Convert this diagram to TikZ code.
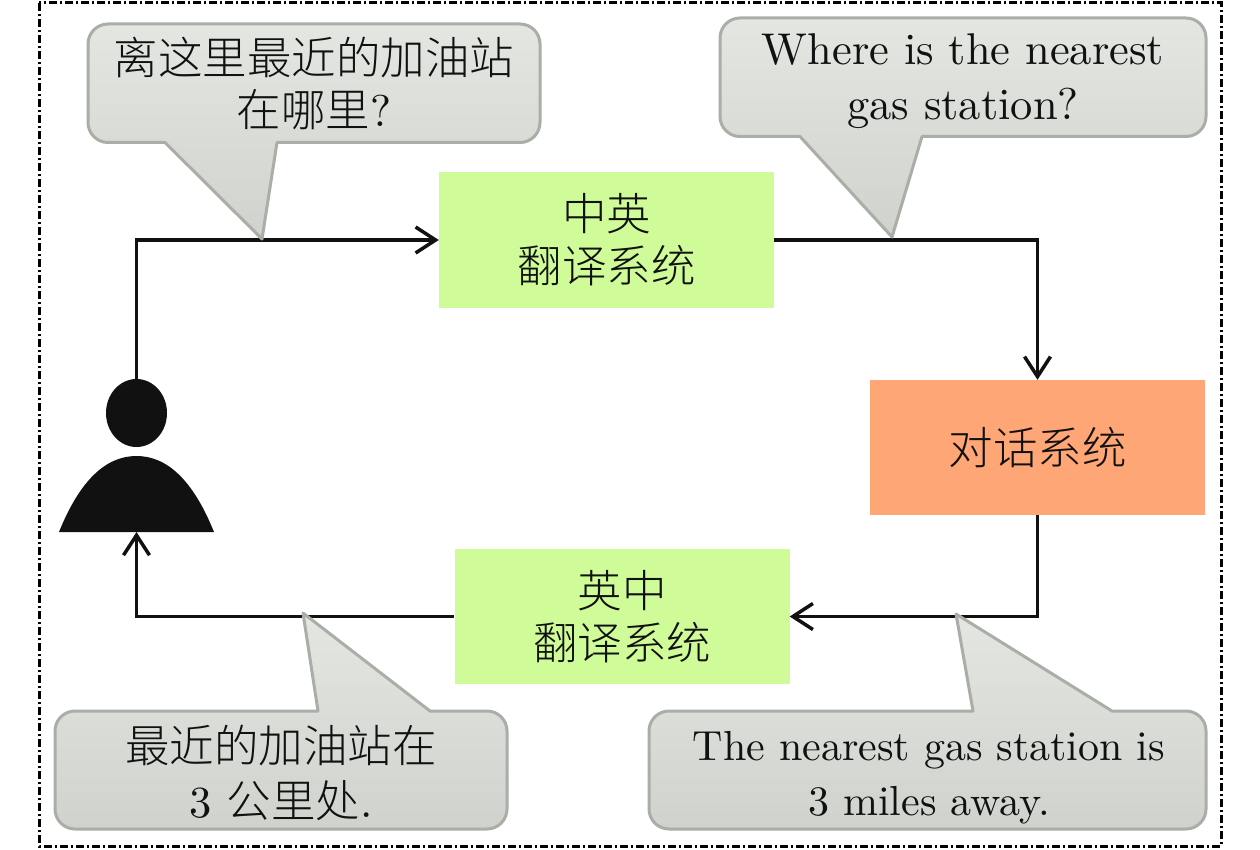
\documentclass[tikz,border=0pt]{standalone}
\usepackage{xcolor}
\usepackage{fontspec}
\setmainfont{lmroman10-regular}[Extension=.otf]
\newfontfamily\cjk{Noto Sans CJK SC Light}
\usetikzlibrary{arrows.meta,shapes.geometric}

\definecolor{boxgreen}{HTML}{CFFC98}
\definecolor{boxorange}{HTML}{FFA676}
\definecolor{bubbleline}{HTML}{A9AEA7}
\definecolor{bubbletop}{HTML}{E3E6E1}
\definecolor{bubblebottom}{HTML}{D0D3CD}
\definecolor{inkblack}{HTML}{111111}

\tikzset{
    sysbox/.style={minimum width=335pt,minimum height=135pt,inner sep=0pt,align=center,text=inkblack,font=\fontsize{44.5}{56}\selectfont},
    bubble/.style={draw=bubbleline,line width=3pt,top color=bubbletop,bottom color=bubblebottom,line join=round},
    bubbletext/.style={inner sep=0pt,align=center,text=inkblack,font=\fontsize{44.5}{55}\selectfont},
    flow/.style={draw=inkblack,line width=3.5pt,-{Straight Barb[length=20pt,width=26pt]}}
}

\begin{document}
\begin{tikzpicture}[x=1pt,y=-1pt]
    \useasboundingbox (0,0) rectangle (1260,850);

    % outer frame
    \draw[line width=3pt,dash pattern=on 8pt off 3pt on 2pt off 3pt] (39,3) rectangle (1221,846);

    % systems
    \node[sysbox,fill=boxgreen] (zhen) at (606.5,240) {{\cjk 中英}\\[-4pt]{\cjk 翻译系统}};
    \node[sysbox,fill=boxorange] (dialog) at (1037.5,447.5) {{\cjk 对话系统}};
    \node[sysbox,fill=boxgreen] (enzh) at (622,616.5) {{\cjk 英中}\\[-4pt]{\cjk 翻译系统}};

    % user
    \node[ellipse,fill=inkblack,minimum width=61pt,minimum height=68pt,inner sep=0pt] (head) at (136.5,413) {};
    \fill[inkblack] (59,532) .. controls (80,480) and (106,456) .. (136.5,456)
        .. controls (167,456) and (193,480) .. (214,532) -- cycle;
    \coordinate (body) at (136.5,532);

    % connectors
    \draw[flow] (head.north) |- (zhen.west);
    \draw[flow] (zhen.east) -| (dialog.north);
    \draw[flow] (dialog.south) |- (enzh.east);
    \draw[flow] (enzh.west) -| (body);

    % speech bubbles
    \draw[bubble] (277,142.5) [rounded corners=20pt] -- (540,142.5) -- (540,24) -- (88,24) -- (88,142.5) [sharp corners] -- (165,142.5) -- (262,239) -- cycle;
    \draw[bubble] (922,136.5) [rounded corners=20pt] -- (1206,136.5) -- (1206,18) -- (720,18) -- (720,136.5) [sharp corners] -- (800,136.5) -- (892,237) -- cycle;
    \draw[bubble] (318,711) [rounded corners=20pt] -- (55,711) -- (55,829) -- (507,829) -- (507,711) [sharp corners] -- (430,711) -- (303,613) -- cycle;
    \draw[bubble] (973,711) [rounded corners=20pt] -- (649,711) -- (649,829) -- (1206,829) -- (1206,711) [sharp corners] -- (1112,711) -- (956,614) -- cycle;

    % bubble texts
    \node[bubbletext] (askzh) at (314,83.5) {{\cjk 离这里最近的加油站}\\[-3pt]{\cjk 在哪里}?};
    \node[bubbletext] (asken) at (963,81) {Where is the nearest\\gas station?};
    \node[bubbletext] (replyzh) at (281,773) {{\cjk 最近的加油站在}\\3 {\cjk 公里处}.};
    \node[bubbletext,font=\fontsize{42}{55}\selectfont] (replyen) at (929,778) {The nearest gas station is\\3 miles away.};
\end{tikzpicture}
\end{document}
